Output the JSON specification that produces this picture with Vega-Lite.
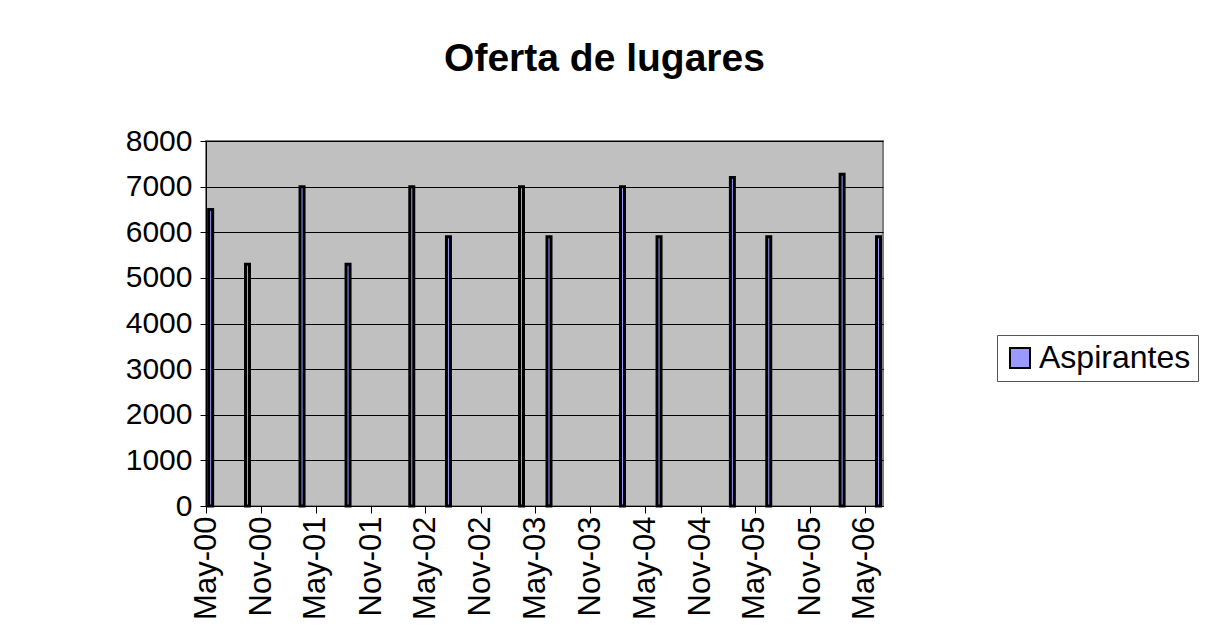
{
  "$schema": "https://vega.github.io/schema/vega-lite/v6.json",
  "width": 677,
  "height": 365,
  "autosize": "none",
  "padding": {"left": 206, "top": 141, "right": 323, "bottom": 122},
  "background": "white",
  "title": {
    "text": "Oferta de lugares",
    "font": "Liberation Sans",
    "fontSize": 39,
    "fontWeight": "bold",
    "color": "black",
    "anchor": "middle",
    "frame": "group",
    "dx": 60,
    "offset": 47
  },
  "data": {
    "values": [
      {"fecha": "2000-05-01", "aspirantes": 6500},
      {"fecha": "2000-09-01", "aspirantes": 5300},
      {"fecha": "2001-03-01", "aspirantes": 7000},
      {"fecha": "2001-08-01", "aspirantes": 5300},
      {"fecha": "2002-03-01", "aspirantes": 7000},
      {"fecha": "2002-07-01", "aspirantes": 5900},
      {"fecha": "2003-03-01", "aspirantes": 7000},
      {"fecha": "2003-06-01", "aspirantes": 5900},
      {"fecha": "2004-02-01", "aspirantes": 7000},
      {"fecha": "2004-06-01", "aspirantes": 5900},
      {"fecha": "2005-02-01", "aspirantes": 7200},
      {"fecha": "2005-06-01", "aspirantes": 5900},
      {"fecha": "2006-02-01", "aspirantes": 7270},
      {"fecha": "2006-06-01", "aspirantes": 5900}
    ]
  },
  "mark": {"type": "bar", "width": 4, "stroke": "black", "strokeWidth": 3},
  "encoding": {
    "x": {
      "field": "fecha",
      "type": "temporal",
      "timeUnit": "utcyearmonth",
      "bandPosition": 0.6,
      "scale": {
        "type": "utc",
        "nice": false,
        "domain": [
          {"year": 2000, "month": 5, "date": 1, "utc": true},
          {"year": 2006, "month": 7, "date": 1, "utc": true}
        ]
      },
      "axis": {
        "title": null,
        "values": [
          {"year": 2000, "month": 5, "date": 1, "utc": true},
          {"year": 2000, "month": 11, "date": 1, "utc": true},
          {"year": 2001, "month": 5, "date": 1, "utc": true},
          {"year": 2001, "month": 11, "date": 1, "utc": true},
          {"year": 2002, "month": 5, "date": 1, "utc": true},
          {"year": 2002, "month": 11, "date": 1, "utc": true},
          {"year": 2003, "month": 5, "date": 1, "utc": true},
          {"year": 2003, "month": 11, "date": 1, "utc": true},
          {"year": 2004, "month": 5, "date": 1, "utc": true},
          {"year": 2004, "month": 11, "date": 1, "utc": true},
          {"year": 2005, "month": 5, "date": 1, "utc": true},
          {"year": 2005, "month": 11, "date": 1, "utc": true},
          {"year": 2006, "month": 5, "date": 1, "utc": true}
        ],
        "format": "%b-%y",
        "labelAngle": -90,
        "labelFont": "Liberation Sans",
        "labelFontSize": 31,
        "labelColor": "black",
        "labelFlush": false,
        "labelOverlap": false,
        "labelPadding": 3,
        "tickColor": "black",
        "tickSize": 7,
        "domainColor": "black",
        "grid": false
      }
    },
    "y": {
      "field": "aspirantes",
      "type": "quantitative",
      "scale": {"domain": [0, 8000], "nice": false},
      "axis": {
        "title": null,
        "values": [0, 1000, 2000, 3000, 4000, 5000, 6000, 7000, 8000],
        "format": "d",
        "grid": true,
        "gridColor": "black",
        "gridOpacity": 1,
        "gridWidth": 1,
        "domainColor": "black",
        "tickColor": "black",
        "tickSize": 6,
        "labelFont": "Liberation Sans",
        "labelFontSize": 30,
        "labelColor": "black",
        "labelPadding": 8,
        "labelOverlap": false
      }
    },
    "color": {
      "datum": "Aspirantes",
      "type": "nominal",
      "scale": {"range": ["#9999FF"]},
      "legend": {
        "title": null,
        "orient": "none",
        "legendX": 791,
        "legendY": 194,
        "direction": "vertical",
        "symbolType": "square",
        "symbolSize": 400,
        "symbolStrokeColor": "black",
        "symbolStrokeWidth": 2,
        "symbolOpacity": 1,
        "labelFont": "Liberation Sans",
        "labelFontSize": 32,
        "labelColor": "black",
        "labelOffset": 3,
        "padding": 7,
        "strokeColor": "#555555",
        "fillColor": "white"
      }
    }
  },
  "config": {
    "view": {"fill": "#C0C0C0", "stroke": "#808080", "strokeWidth": 2}
  }
}
